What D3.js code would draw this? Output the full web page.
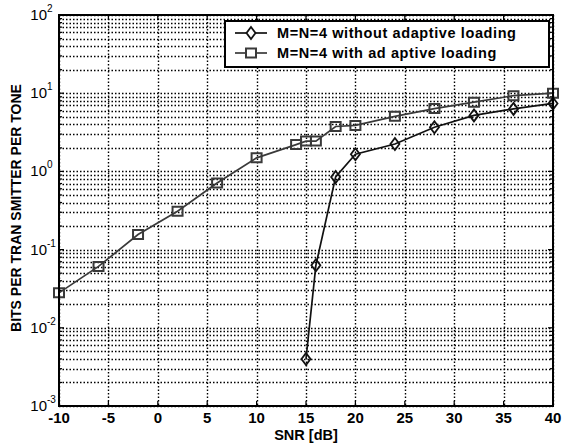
<!DOCTYPE html>
<html>
<head>
<meta charset="utf-8">
<script src="https://cdn.jsdelivr.net/npm/d3@7"></script>
<style>
  body { margin: 0; background: #fff; }
  text { font-family: "Liberation Sans", Arial, sans-serif; font-weight: bold; }
</style>
</head>
<body>
<div id="chart-area"></div>
<script>
// SNR [dB] and bits per transmitter per tone
const snrAdaptive = [-10, -6, -2, 2, 6, 10, 14, 15, 16, 18, 20, 24, 28, 32, 36, 40];
const bitsAdaptive = [0.028, 0.061, 0.156, 0.31, 0.71, 1.49, 2.2, 2.44, 2.44, 3.75, 3.87, 5.06, 6.35, 7.67, 9.3, 10];

const snrFixed = [15, 16, 18, 20, 24, 28, 32, 36, 40];
const bitsFixed = [0.004, 0.063, 0.85, 1.66, 2.24, 3.67, 5.2, 6.3, 7.4];

const xTicks = [-10, -5, 0, 5, 10, 15, 20, 25, 30, 35, 40];
const yExponents = [-3, -2, -1, 0, 1, 2];

const legendLabels = ["M=N=4 without adaptive loading", "M=N=4 with ad aptive loading"];

const renderChart = () => {
    const w = 562;
    const h = 445;
    const left = 59, right = 553, top = 15, bottom = 406;

    const xScale = d3.scaleLinear().domain([-10, 40]).range([left, right]);
    const yScale = d3.scaleLog().domain([1e-3, 1e2]).range([bottom, top]);

    const svg = d3.select("#chart-area")
        .append("svg")
        .attr("width", w)
        .attr("height", h);

    svg.append("rect").attr("width", w).attr("height", h).attr("fill", "#fff");

    // minor + major y values for the grid
    const yGrid = [];
    yExponents.slice(0, -1).forEach(e => {
        for (let k = 1; k < 10; k++) yGrid.push(k * Math.pow(10, e));
    });
    yGrid.push(100);

    const grid = svg.append("g")
        .attr("stroke", "#000")
        .attr("stroke-width", 1.4)
        .attr("stroke-dasharray", "1.5,2");

    grid.selectAll(".hgrid")
        .data(yGrid)
        .enter()
        .append("line")
        .attr("x1", left).attr("x2", right)
        .attr("y1", d => Math.round(yScale(d)) + 0.5)
        .attr("y2", d => Math.round(yScale(d)) + 0.5);

    grid.selectAll(".vgrid")
        .data(xTicks)
        .enter()
        .append("line")
        .attr("x1", d => Math.round(xScale(d)) + 0.5)
        .attr("x2", d => Math.round(xScale(d)) + 0.5)
        .attr("y1", top).attr("y2", bottom);

    // tick marks on all sides
    const ticks = svg.append("g").attr("stroke", "#000").attr("stroke-width", 1.2);
    xTicks.forEach(t => {
        const x = xScale(t);
        ticks.append("line").attr("x1", x).attr("x2", x).attr("y1", bottom).attr("y2", bottom - 5);
        ticks.append("line").attr("x1", x).attr("x2", x).attr("y1", top).attr("y2", top + 5);
    });
    yGrid.forEach(v => {
        const y = yScale(v);
        const major = Math.abs(Math.log10(v) - Math.round(Math.log10(v))) < 1e-9;
        const len = major ? 5 : 3;
        ticks.append("line").attr("x1", left).attr("x2", left + len).attr("y1", y).attr("y2", y);
        ticks.append("line").attr("x1", right).attr("x2", right - len).attr("y1", y).attr("y2", y);
    });

    const line = d3.line()
        .x(d => xScale(d[0]))
        .y(d => yScale(d[1]));

    const adaptive = snrAdaptive.map((s, i) => [s, bitsAdaptive[i]]);
    const fixed = snrFixed.map((s, i) => [s, bitsFixed[i]]);

    const squareColor = "#3a3a3a";
    const diamondColor = "#111";

    svg.append("path")
        .datum(adaptive)
        .attr("d", line)
        .attr("fill", "none")
        .attr("stroke", squareColor)
        .attr("stroke-width", 1.7);

    svg.append("path")
        .datum(fixed)
        .attr("d", line)
        .attr("fill", "none")
        .attr("stroke", diamondColor)
        .attr("stroke-width", 1.7);

    const squarePath = "M-5,-4.5H5V4.5H-5Z";
    const diamondPath = "M0,-6L4.5,0L0,6L-4.5,0Z";

    svg.selectAll(".sq")
        .data(adaptive)
        .enter()
        .append("path")
        .attr("d", squarePath)
        .attr("transform", d => "translate(" + xScale(d[0]) + "," + yScale(d[1]) + ")")
        .attr("fill", "none")
        .attr("stroke", squareColor)
        .attr("stroke-width", 2);

    svg.selectAll(".dm")
        .data(fixed)
        .enter()
        .append("path")
        .attr("d", diamondPath)
        .attr("transform", d => "translate(" + xScale(d[0]) + "," + yScale(d[1]) + ")")
        .attr("fill", "none")
        .attr("stroke", diamondColor)
        .attr("stroke-width", 1.8);

    // axes box
    svg.append("rect")
        .attr("x", left).attr("y", top)
        .attr("width", right - left).attr("height", bottom - top)
        .attr("fill", "none")
        .attr("stroke", "#000")
        .attr("stroke-width", 2);

    // x tick labels
    svg.selectAll(".xlab")
        .data(xTicks)
        .enter()
        .append("text")
        .attr("x", d => xScale(d))
        .attr("y", bottom + 17)
        .attr("text-anchor", "middle")
        .attr("font-size", 15)
        .text(d => d);

    // y tick labels: 10 with superscript exponent
    yExponents.forEach(e => {
        const y = yScale(Math.pow(10, e));
        svg.append("text")
            .attr("x", left - 12)
            .attr("y", y + 5)
            .attr("text-anchor", "end")
            .attr("font-size", 15)
            .style("font-weight", "normal")
            .text("10");
        svg.append("text")
            .attr("x", left - 12)
            .attr("y", y - 3)
            .attr("font-size", 10)
            .style("font-weight", "normal")
            .text(e);
    });

    svg.append("text")
        .attr("x", (left + right) / 2)
        .attr("y", 440)
        .attr("text-anchor", "middle")
        .attr("font-size", 14.5)
        .text("SNR [dB]");

    svg.append("text")
        .attr("transform", "translate(21,208) rotate(-90)")
        .attr("text-anchor", "middle")
        .attr("font-size", 14)
        .text("BITS PER TRAN SMITTER PER TONE");

    // legend
    const lg = svg.append("g");
    lg.append("rect")
        .attr("x", 225).attr("y", 21)
        .attr("width", 324).attr("height", 46)
        .attr("fill", "#fff")
        .attr("stroke", "#000")
        .attr("stroke-width", 2);

    const items = [
        { label: legendLabels[0], color: diamondColor, path: diamondPath, sw: 1.8 },
        { label: legendLabels[1], color: squareColor, path: squarePath, sw: 2 }
    ];
    items.forEach((it, i) => {
        const cy = 33 + i * 20;
        lg.append("line")
            .attr("x1", 235).attr("x2", 267)
            .attr("y1", cy).attr("y2", cy)
            .attr("stroke", it.color)
            .attr("stroke-width", 1.7);
        lg.append("path")
            .attr("d", it.path)
            .attr("transform", "translate(251," + cy + ")")
            .attr("fill", "#fff")
            .attr("stroke", it.color)
            .attr("stroke-width", it.sw);
        lg.append("text")
            .attr("x", 277)
            .attr("y", cy + 5)
            .attr("font-size", 14.5)
            .attr("letter-spacing", 0.6)
            .text(it.label);
    });
};

renderChart();
</script>
</body>
</html>
